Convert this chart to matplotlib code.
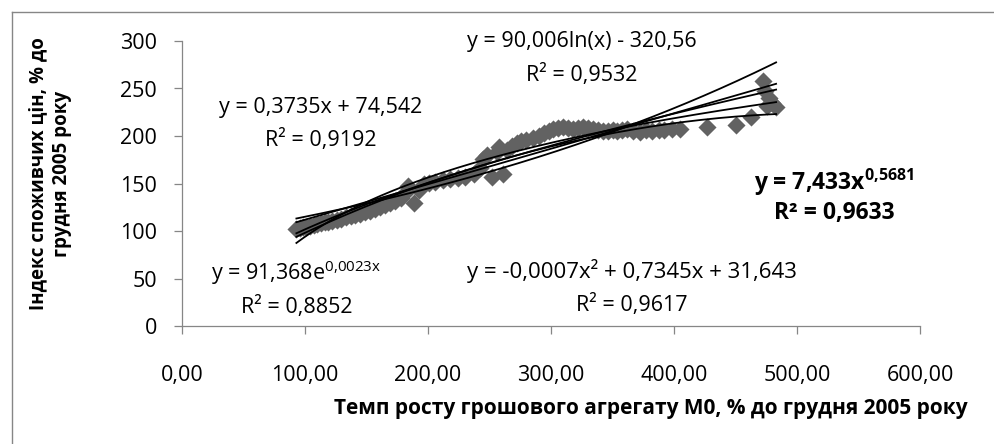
import numpy as np
import matplotlib
matplotlib.use("Agg")
import matplotlib.pyplot as plt
from matplotlib.lines import Line2D

plt.rcParams["font.family"] = ["Open Sans", "DejaVu Sans"]

# M0 growth rate (% of Dec 2005) vs CPI (% of Dec 2005)
m0 = [93, 96, 98, 101, 104, 107, 110, 113, 116, 119, 122, 126,
      129, 133, 137, 141, 145, 149, 153, 157, 161, 165, 169, 173,
      178, 181, 184, 189, 193, 197, 201, 206, 212, 218, 224, 230,
      237, 242, 245, 248, 252, 256, 258, 261, 264, 268, 272, 276,
      280, 285, 290, 294, 298, 302, 306, 310, 314, 318, 322, 326, 330, 334, 338,
      342, 346, 350, 354, 358, 362, 367, 372, 377, 382, 388, 392, 398, 405,
      427, 450, 463, 472, 474, 477, 480, 483, 476]
cpi = [102, 103, 104, 104, 105, 106, 107, 108, 109, 110, 111, 112,
       113, 115, 116, 117, 118, 120, 121, 123, 125, 127, 129, 132,
       135, 140, 147, 130, 143, 149, 151, 152, 154, 155, 156, 157,
       160, 166, 176, 180, 157, 183, 188, 160, 185, 190, 193, 195,
       196, 198, 200, 203, 205, 207, 208, 209, 208, 207, 208, 209, 208, 207, 206,
       205, 205, 206, 205, 206, 207, 205, 204, 206, 205, 206, 206, 207, 207,
       209, 212, 220, 258, 247, 240, 235, 231, 232]

# Excel trend line coefficients shown on the chart
lin_a, lin_b = 0.3735, 74.542
log_a, log_b = 90.006, -320.56
exp_a, exp_b = 91.368, 0.0023
poly_a, poly_b, poly_c = -0.0007, 0.7345, 31.643
pow_a, pow_b = 7.433, 0.5681

x_ticks = [0, 100, 200, 300, 400, 500, 600]
y_ticks = [0, 50, 100, 150, 200, 250, 300]

W, H = 994, 444
fig = plt.figure(figsize=(W / 100, H / 100), dpi=100)
ax = fig.add_axes([182 / W, 1 - 326 / H, (920 - 182) / W, (326 - 41) / H])

grey = "#868686"
ax.scatter(m0, cpi, marker="D", s=85, color="#626262", linewidths=0, zorder=2)

xs = np.linspace(min(m0), max(m0), 200)
fits = [lin_a * xs + lin_b,
        log_a * np.log(xs) + log_b,
        exp_a * np.exp(exp_b * xs),
        poly_a * xs ** 2 + poly_b * xs + poly_c,
        pow_a * xs ** pow_b]
for f in fits:
    ax.plot(xs, f, color="black", lw=1.3, zorder=3)

ax.set_xlim(0, 600)
ax.set_ylim(0, 300)
ax.set_xticks(x_ticks)
ax.set_xticklabels([f"{v},00" for v in x_ticks])
ax.set_yticks(y_ticks)
for s in ["top", "right"]:
    ax.spines[s].set_visible(False)
for s in ["left", "bottom"]:
    ax.spines[s].set_color(grey)
    ax.spines[s].set_linewidth(0.9)
ax.tick_params(axis="both", colors=grey, labelcolor="black", labelsize=15.5,
               length=6, width=0.9, direction="out")
ax.tick_params(axis="x", pad=22)
ax.tick_params(axis="y", pad=12)

# chart area border (left and top visible)
fig.add_artist(Line2D([12 / W, 12 / W], [0, 1 - 12 / H], color=grey, lw=1))
fig.add_artist(Line2D([12 / W, 1], [1 - 12 / H, 1 - 12 / H], color=grey, lw=1))


def put(px, py, s, size=15.5, **kw):
    fig.text(px / W, 1 - py / H, s, ha="center", va="center", fontsize=size, **kw)


put(582, 42, "y = 90,006ln(x) - 320,56")
put(582, 75, "R² = 0,9532")
put(321, 107, "y = 0,3735x + 74,542")
put(321, 140, "R² = 0,9192")
put(834, 182, r"y = 7,433x$\mathregular{^{0{,}5681}}$", size=16.5, fontweight="bold")
put(834, 213, "R² = 0,9633", size=16.5, fontweight="bold")
put(296, 273, r"y = 91,368e$\mathregular{^{0{,}0023x}}$")
put(297, 307, "R² = 0,8852")
put(632, 271, "y = -0,0007x² + 0,7345x + 31,643", size=16)
put(632, 305, "R² = 0,9617")

fig.text(50 / W, 1 - 174 / H, "Індекс споживчих цін, % до\nгрудня 2005 року",
         rotation=90, ha="center", va="center", fontsize=13.5,
         fontweight="bold", linespacing=1.3)
fig.text(968 / W, 1 - 408 / H, "Темп росту грошового агрегату М0, % до грудня 2005 року",
         ha="right", va="center", fontsize=15, fontweight="bold")

fig.savefig("out.png", dpi=100)
